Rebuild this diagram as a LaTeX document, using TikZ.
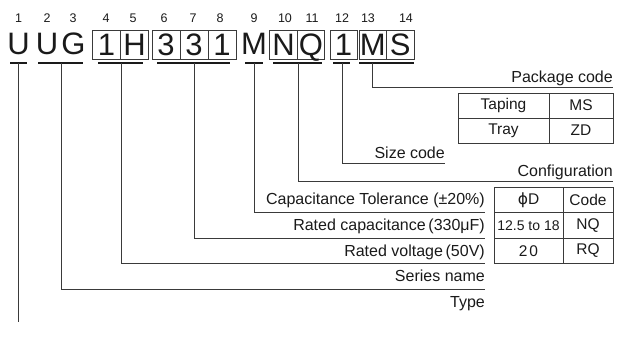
\documentclass[tikz,border=0pt]{standalone}
\usepackage{fontspec}
\setmainfont{Liberation Sans}
\newfontfamily\dvfont{DejaVu Sans}
\definecolor{ln}{HTML}{3A3A3A}
\definecolor{txt}{HTML}{1A1A1A}
\begin{document}
\begin{tikzpicture}[x=1pt,y=-1pt,
  num/.style={font=\fontsize{12.5}{12.5}\selectfont, anchor=base, inner sep=0pt, text=txt},
  bigl/.style={font=\fontsize{31}{31}\selectfont, anchor=base, inner sep=0pt, text=txt},
  cell/.style={draw=ln, line width=0.8pt, minimum width=#1, text height=22pt, text depth=0pt,
     inner ysep=3.5pt, inner xsep=0pt, font=\fontsize{31}{31}\selectfont, text=txt, anchor=center},
  cell/.default=28pt,
  bar/.style={draw=txt, line width=1.8pt},
  conn/.style={draw=ln, line width=0.8pt},
  lab/.style={font=\fontsize{16}{16}\selectfont, anchor=base east, inner sep=0pt, text=txt},
  tcell/.style={draw=ln, line width=0.8pt, minimum height=#1, inner sep=0pt,
     font=\fontsize{15.5}{15.5}\selectfont, text=txt, anchor=center},
  tcell/.default=25pt]
\useasboundingbox (0,0) rectangle (625,337);

% position numbers
\node[num] (n1) at (18.5,22.5) {1};
\node[num] (n2) at (47,22.5) {2};
\node[num] (n3) at (73,22.5) {3};
\node[num] (n4) at (106,22.5) {4};
\node[num] (n5) at (133,22.5) {5};
\node[num] (n6) at (164,22.5) {6};
\node[num] (n7) at (193,22.5) {7};
\node[num] (n8) at (220,22.5) {8};
\node[num] (n9) at (254,22.5) {9};
\node[num] (n10) at (285,22.5) {10};
\node[num] (n11) at (312,22.5) {11};
\node[num] (n12) at (342,22.5) {12};
\node[num] (n13) at (368,22.5) {13};
\node[num] (n14) at (406,22.5) {14};

% code characters
\node[bigl] (c1) at (18.5,55) {U};
\node[bigl] (c2) at (47,55) {U};
\node[bigl] (c3) at (73.5,55) {G};
\node[cell] (c4) at (106.5,44.5) {1};
\node[cell=27.5pt] (c5) at (134.5,44.5) {H};
\node[cell] (c6) at (166,44.5) {3};
\node[cell] (c7) at (194,44.5) {3};
\node[cell] (c8) at (222,44.5) {1};
\node[bigl] (c9) at (254,55) {M};
\node[cell] (c10) at (283.5,44.5) {N};
\node[cell=27pt] (c11) at (311,44.5) {Q};
\node[cell=27pt] (c12) at (343.5,44.5) {1};
\node[cell=27.5pt] (c13) at (372.75,44.5) {M};
\node[cell=27.5pt] (c14) at (400.25,44.5) {S};

% underbars
\draw[bar] (10,63) -- (27,63);
\draw[bar] (38,63) -- (83,63);
\draw[bar] (98,63) -- (143,63);
\draw[bar] (157,63) -- (230,63);
\draw[bar] (245,63) -- (263,63);
\draw[bar] (273,63) -- (322,63);
\draw[bar] (333,63) -- (350,63);
\draw[bar] (359,63) -- (414,63);

\coordinate (b1) at (18,63);
\coordinate (b2) at (61,63);
\coordinate (b3) at (121,63);
\coordinate (b4) at (194,63);
\coordinate (b5) at (254,63);
\coordinate (b6) at (298,63);
\coordinate (b7) at (342,63);
\coordinate (b8) at (372,63);

% labels
\node[lab] (lpack) at (613,82.5) {Package code};
\node[lab] (lsize) at (445,158) {Size code};
\node[lab] (lconf) at (613,176) {Configuration};
\node[lab] (ltol) at (485,204.5) {Capacitance Tolerance (±20\%)};
\node[lab] (lcap) at (485,230.5) {Rated capacitance\,(330μF)};
\node[lab] (lvolt) at (485,256) {Rated voltage\,(50V)};
\node[lab] (lser) at (485,281.5) {Series name};
\node[lab] (ltype) at (485,307) {Type};

\coordinate (epack) at (613,87);
\coordinate (esize) at (445,163);
\coordinate (econf) at (613,181);
\coordinate (etol) at (485,212.7);
\coordinate (ecap) at (485,238.2);
\coordinate (evolt) at (485,263.7);
\coordinate (eser) at (485,289.2);
\coordinate (etype) at (18,322);

% connectors
\draw[conn] (b8) |- (epack);
\draw[conn] (b7) |- (esize);
\draw[conn] (b6) |- (econf);
\draw[conn] (b5) |- (etol);
\draw[conn] (b4) |- (ecap);
\draw[conn] (b3) |- (evolt);
\draw[conn] (b2) |- (eser);
\draw[conn] (b1) -- (etype);

% package table
\node[tcell, minimum width=91pt] (t11) at (503.5,105.5) {Taping};
\node[tcell, minimum width=64pt] (t12) at (581,105.5) {MS};
\node[tcell, minimum width=91pt] (t21) at (503.5,130.5) {Tray};
\node[tcell, minimum width=64pt] (t22) at (581,130.5) {ZD};

% configuration table
\node[tcell=25.5pt, minimum width=69pt] (s11) at (528.5,199.95) {{\dvfont ϕ}D};
\node[tcell=25.5pt, minimum width=50pt] (s12) at (588,199.95) {Code};
\node[tcell=25.5pt, minimum width=69pt, font=\fontsize{14}{14}\selectfont] (s21) at (528.5,225.45) {12.5 to 18};
\node[tcell=25.5pt, minimum width=50pt] (s22) at (588,225.45) {NQ};
\node[tcell=25.5pt, minimum width=69pt] (s31) at (528.5,250.95) {2\hspace{2pt}0};
\node[tcell=25.5pt, minimum width=50pt] (s32) at (588,250.95) {RQ};
\end{tikzpicture}
\end{document}
